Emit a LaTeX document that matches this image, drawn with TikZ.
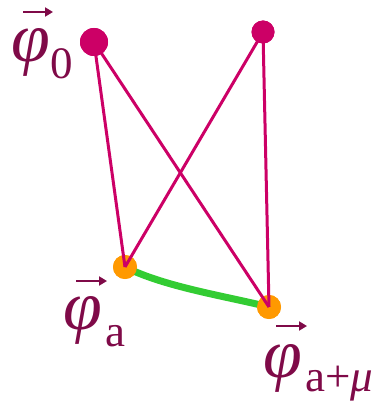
\documentclass[tikz,border=0pt]{standalone}
\usepackage{fontspec}
\usetikzlibrary{arrows.meta}
\setmainfont{Liberation Serif}
\definecolor{lbl}{HTML}{7F0A48}
\definecolor{mag}{HTML}{CC0066}
\definecolor{org}{HTML}{FF9900}
\definecolor{grn}{HTML}{33CC33}
\begin{document}
\begin{tikzpicture}[x=1pt,y=-1pt,
  magdot/.style={circle,fill=mag,inner sep=0pt},
  orgdot/.style={circle,fill=org,inner sep=0pt,minimum size=24pt},
  link/.style={draw=mag,line width=3pt},
  chain/.style={draw=grn,line width=7pt},
  phil/.style={text=lbl,font=\fontsize{70}{80}\selectfont\itshape,inner sep=0pt,anchor=base west},
  subl/.style={text=lbl,font=\fontsize{45}{50}\selectfont,inner sep=0pt,anchor=base west},
  vecarr/.style={draw=lbl,line width=1.8pt,-{Triangle[length=8pt,width=9pt]}}]
\useasboundingbox (0,0) rectangle (372,401);
\node[magdot,minimum size=28pt] (p0) at (94,42) {};
\node[magdot,minimum size=23pt] (p1) at (263,32) {};
\node[orgdot] (pa) at (125,267) {};
\node[orgdot] (pb) at (269,307) {};
\draw[chain] (pa.center) .. controls (165,287) and (225,296) .. (pb.center);
\node[orgdot] at (pa) {};
\node[orgdot] at (pb) {};
\draw[link] (p0.center) -- (pa.center);
\draw[link] (p0.center) -- (pb.center);
\draw[link] (p1.center) -- (pa.center);
\draw[link] (p1.center) -- (pb.center);
\node[magdot,minimum size=28pt] at (p0) {};
\node[magdot,minimum size=23pt] at (p1) {};
% labels
\node[phil] (l0) at (11,61.5) {φ};
\node[subl] (s0) at (50,79) {0};
\coordinate (a0s) at (23,12); \coordinate (a0e) at (53,12);
\draw[vecarr] (a0s) -- (a0e);
\node[phil] (la) at (63,329.5) {φ};
\node[subl] (sa) at (105,346) {a};
\coordinate (aas) at (76,281); \coordinate (aae) at (107,281);
\draw[vecarr] (aas) -- (aae);
\node[phil] (lb) at (263,377.5) {φ};
\node[subl] (sb) at (305,391) {a+\textit{μ}};
\coordinate (abs) at (276,326); \coordinate (abe) at (307,326);
\draw[vecarr] (abs) -- (abe);
\end{tikzpicture}
\end{document}
